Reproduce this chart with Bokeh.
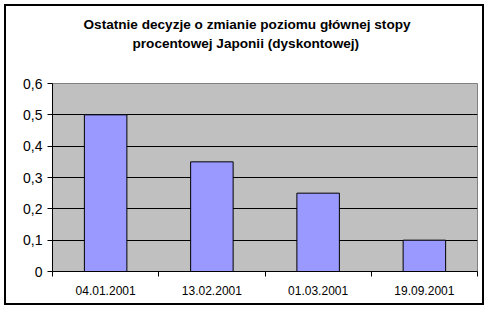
from bokeh.plotting import figure
from bokeh.models import (FixedTicker, CustomJSTickFormatter, Title,
                          ColumnDataSource, Range1d)
from bokeh.embed import file_html
from bokeh.resources import INLINE

title_lines = ["Ostatnie decyzje o zmianie poziomu głównej stopy",
               "procentowej Japonii (dyskontowej)"]
dates = ["04.01.2001", "13.02.2001", "01.03.2001", "19.09.2001"]
rates = [0.5, 0.35, 0.25, 0.1]
y_ticks = [0, 0.1, 0.2, 0.3, 0.4, 0.5, 0.6]

xs = [i + 0.5 for i in range(len(dates))]
src = ColumnDataSource(dict(x=xs, top=rates))

p = figure(width=480, height=301, output_backend="svg", toolbar_location=None,
           x_range=Range1d(0, len(dates)), y_range=Range1d(0, 0.6))
p.margin = (4, 0, 0, 4)
p.styles = {"border": "2px solid black"}
p.min_border_left = 46
p.min_border_right = 9
p.min_border_top = 77
p.min_border_bottom = 36
p.background_fill_color = "#C0C0C0"
p.border_fill_color = "white"
p.outline_line_color = "#808080"
p.outline_line_width = 1
p.title = None

# spacer between the frame and the title block
p.add_layout(Title(text=" ", text_font_size="14px", standoff=14), "above")
title_offsets = [31, 80]  # left offsets so each line is centred on the whole chart
for t, off in reversed(list(zip(title_lines, title_offsets))):
    p.add_layout(Title(text=t, align="left", offset=off, text_font="Liberation Sans",
                       text_font_style="bold", text_font_size="13.6px",
                       text_color="black", standoff=2), "above")

p.vbar(x="x", top="top", width=0.4, bottom=0, source=src,
       fill_color="#9999FF", line_color="black", line_width=1)

# x axis
p.xaxis.ticker = FixedTicker(ticks=xs, minor_ticks=list(range(len(dates) + 1)))
p.xaxis.major_label_overrides = {x: d for x, d in zip(xs, dates)}
p.xaxis.major_tick_line_color = None
p.xaxis.major_tick_out = 0
p.xaxis.major_tick_in = 0
p.xaxis.minor_tick_out = 5
p.xaxis.minor_tick_in = 0
p.xaxis.minor_tick_line_color = "black"
p.xaxis.axis_line_color = "black"
p.xaxis.major_label_text_font = "Liberation Sans"
p.xaxis.major_label_text_font_size = "12px"
p.xaxis.major_label_text_color = "black"
p.xaxis.major_label_standoff = 9
p.xgrid.grid_line_color = None

# y axis
p.yaxis.ticker = FixedTicker(ticks=y_ticks, minor_ticks=[])
p.yaxis.formatter = CustomJSTickFormatter(code="""
return tick === 0 ? '0' : tick.toFixed(1).replace('.', ',');
""")
p.yaxis.major_tick_out = 5
p.yaxis.major_tick_in = 0
p.yaxis.minor_tick_line_color = None
p.yaxis.axis_line_color = "black"
p.yaxis.major_label_text_font = "Liberation Sans"
p.yaxis.major_label_text_font_size = "14px"
p.yaxis.major_label_text_color = "black"
p.yaxis.major_label_standoff = 5
p.ygrid.grid_line_color = "black"
p.ygrid.grid_line_width = 1
p.ygrid.ticker = FixedTicker(ticks=y_ticks)

open("out.html", "w").write(file_html(p, INLINE))
